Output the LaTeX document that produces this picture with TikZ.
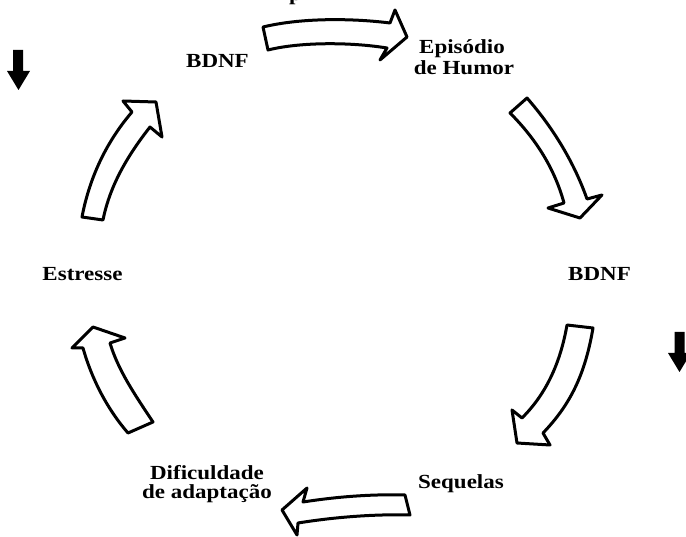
\documentclass[tikz,border=0pt]{standalone}
\usepackage{fontspec}
\setmainfont{Liberation Serif}
\newcommand{\wtxt}[1]{\scalebox{1.15}[1]{#1}}
\tikzset{
  blockarrow/.style={draw=black, line width=3pt, fill=white, line join=round},
  downarrow/.style={fill=black, draw=none},
  lbl/.style={inner sep=0pt, anchor=base, font=\fontsize{20pt}{21pt}\selectfont\bfseries}
}
\begin{document}
\begin{tikzpicture}[x=1pt,y=-1pt]
\useasboundingbox (0,0) rectangle (686,537);
\clip (0,0) rectangle (686,537);
\fill[white] (0,0) rectangle (686,537);

% cut-off text at the top edge
\node[lbl, anchor=base west] (ptop) at (289,0.5) {\wtxt{p}};

% labels
\node[lbl] (bdnf1) at (217.5,68) {\wtxt{BDNF}};
\node[lbl] (epi1) at (462,54) {\wtxt{Episódio}};
\node[lbl] (epi2) at (464,74.5) {\wtxt{de Humor}};
\node[lbl] (bdnf2) at (599.5,281) {\wtxt{BDNF}};
\node[lbl] (seq) at (461,488) {\wtxt{Sequelas}};
\node[lbl] (dif1) at (207,479) {\wtxt{Dificuldade}};
\node[lbl] (dif2) at (207,498.5) {\wtxt{de adaptação}};
\node[lbl] (est) at (82.5,281) {\wtxt{Estresse}};

% hollow block arrows of the cycle
% BDNF -> Episodio de Humor
\draw[blockarrow] (263,27) .. controls (300,18) and (350,18) .. (390,23)
  -- (395,10) -- (407,37) -- (380,60) -- (387,48)
  .. controls (350,42) and (300,42) .. (268,50) -- cycle;
% Episodio de Humor -> BDNF
\draw[blockarrow] (527,98) .. controls (555,130) and (575,165) .. (587,199)
  -- (602,195) -- (580,218) -- (548,208) -- (564,203)
  .. controls (555,170) and (537,140) .. (510,113) -- cycle;
% BDNF -> Sequelas
\draw[blockarrow] (593,328) .. controls (585,375) and (570,405) .. (543,433)
  -- (550,445) -- (517,443) -- (512,410) -- (522,418)
  .. controls (545,395) and (560,365) .. (567,325) -- cycle;
% Sequelas -> Dificuldade de adaptacao
\draw[blockarrow] (405,495) .. controls (370,494) and (335,497) .. (303,502)
  -- (307,488) -- (282,510) -- (297,535) -- (298,523)
  .. controls (335,517) and (375,514) .. (410,515) -- cycle;
% Dificuldade de adaptacao -> Estresse
\draw[blockarrow] (153,422) .. controls (135,395) and (118,370) .. (110,343)
  -- (125,338) -- (93,327) -- (72,348) -- (83,348)
  .. controls (92,380) and (108,410) .. (128,433) -- cycle;
% Estresse -> BDNF
\draw[blockarrow] (82,217) .. controls (90,175) and (108,140) .. (132,112)
  -- (123,101) -- (156,102) -- (162,137) -- (150,127)
  .. controls (128,155) and (110,185) .. (103,220) -- cycle;

% solid black down arrows
\fill[downarrow] (13,50) -- (23,50) -- (23,71) -- (30,71) -- (18.5,90) -- (7,71) -- (13,71) -- cycle;
\fill[downarrow] (674.5,332) -- (684.5,332) -- (684.5,353) -- (691,353) -- (679.5,372) -- (668,353) -- (674.5,353) -- cycle;
\end{tikzpicture}
\end{document}
